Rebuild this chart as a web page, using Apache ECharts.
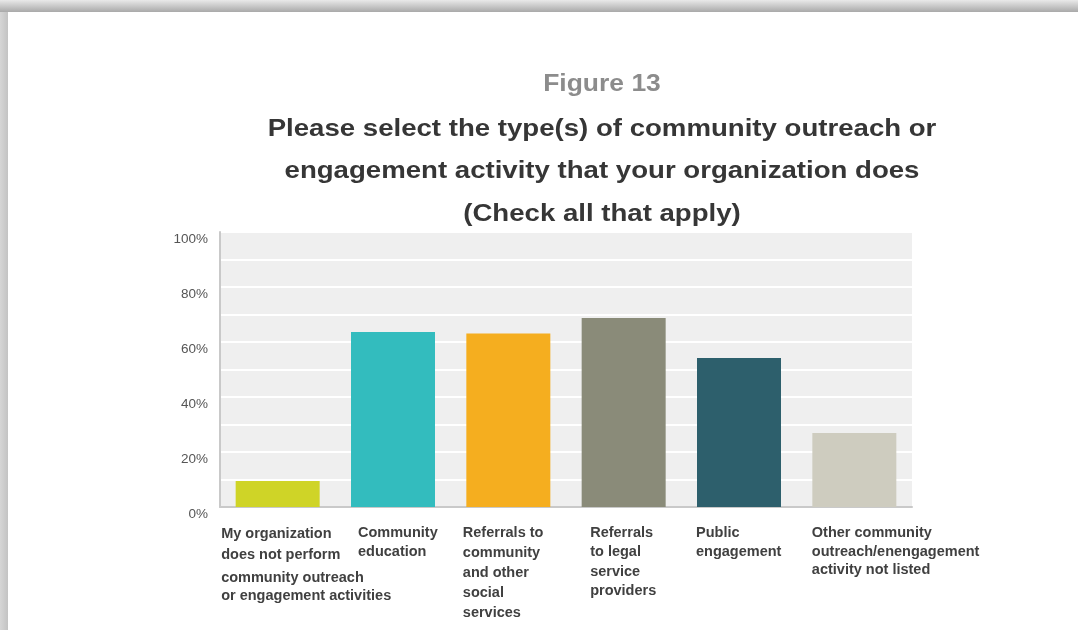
<!DOCTYPE html>
<html>
<head>
<meta charset="utf-8">
<title>Figure 13</title>
<script src="https://cdn.jsdelivr.net/npm/echarts@6/dist/echarts.min.js"></script>
<style>
  html, body { margin: 0; padding: 0; background: #ffffff; }
  #chart { width: 1078px; height: 630px; }
</style>
</head>
<body>
<div id="chart"></div>
<script>
// Survey answers (share of organizations, %)
const categories = [
  'My organization\ndoes not perform\ncommunity outreach\nor engagement activities',
  'Community\neducation',
  'Referrals to\ncommunity\nand other\nsocial\nservices',
  'Referrals\nto legal\nservice\nproviders',
  'Public\nengagement',
  'Other community\noutreach/enengagement\nactivity not listed'
];
const values = [9.5, 63.6, 63.1, 68.7, 54.2, 26.9];
const barColors = ['#cfd427', '#33bcbe', '#f5ae1f', '#8a8b79', '#2d5f6c', '#ceccbf'];

const figureLabel = 'Figure 13';
const titleLines = [
  'Please select the type(s) of community outreach or',
  'engagement activity that your organization does',
  '(Check all that apply)'
];

// Layout of the category labels: each label is a left-aligned block of this width,
// centred under its category, and a line height per label.
const labelBlockWidths = [113, 70, 91, 67, 86, 85];
const labelLineHeights = [20, 19.5, 20, 19.5, 19.5, 18.5];

const FONT = '"Liberation Sans", Arial, Helvetica, sans-serif';

const rich = {};
labelBlockWidths.forEach(function (w, i) {
  rich['c' + i] = {
    width: w, align: 'left', fontFamily: FONT, fontWeight: 'bold',
    fontSize: 14.5, color: '#404040', lineHeight: labelLineHeights[i]
  };
});
// first label: wider gap before its third line, tighter last line
rich.c0a = Object.assign({}, rich.c0, { lineHeight: 21 });
rich.c0b = Object.assign({}, rich.c0, { lineHeight: 25 });
rich.c0c = Object.assign({}, rich.c0, { lineHeight: 11 });
// last label sits a little lower
rich.c5.padding = [2, 0, 0, 0];

function categoryLabel(value, index) {
  const lines = value.split('\n');
  return lines.map(function (line, k) {
    let key = 'c' + index;
    if (index === 0) key = k < 2 ? 'c0a' : (k === 2 ? 'c0b' : 'c0c');
    return '{' + key + '|' + line + '}';
  }).join('\n');
}

const chart = echarts.init(document.getElementById('chart'), null, { renderer: 'canvas' });

const graphics = [
  // page edge shading
  {
    type: 'rect', silent: true, z: 0,
    shape: { x: 0, y: 0, width: 1078, height: 12 },
    style: { fill: new echarts.graphic.LinearGradient(0, 0, 0, 1, [
      { offset: 0, color: '#e9e9e9' }, { offset: 1, color: '#a9a9a9' }
    ]) }
  },
  {
    type: 'rect', silent: true, z: 0,
    shape: { x: 0, y: 12, width: 8, height: 618 },
    style: { fill: new echarts.graphic.LinearGradient(0, 0, 1, 0, [
      { offset: 0, color: '#d6d6d6' }, { offset: 1, color: '#c3c3c3' }
    ]) }
  },
  {
    type: 'text', x: 602, y: 85, scaleX: 1.15, z: 10,
    style: {
      text: figureLabel, font: 'bold 23px ' + FONT, fill: '#8c8c8c',
      align: 'center', verticalAlign: 'middle', textAlign: 'center', textVerticalAlign: 'middle'
    }
  }
];
titleLines.forEach(function (line, i) {
  graphics.push({
    type: 'text', x: 602, y: 129 + i * 42.5, scaleX: 1.15, z: 10,
    style: {
      text: line, font: 'bold 24px ' + FONT, fill: '#363636',
      align: 'center', verticalAlign: 'middle', textAlign: 'center', textVerticalAlign: 'middle'
    }
  });
});

chart.setOption({
  animation: false,
  backgroundColor: '#ffffff',
  graphic: graphics,
  grid: {
    left: 220, right: 166, top: 232, bottom: 123,
    show: true, backgroundColor: '#efefef', borderWidth: 0
  },
  xAxis: {
    type: 'category',
    data: categories,
    axisTick: { show: false },
    axisLine: { show: true, lineStyle: { color: '#c9c9c9', width: 2 } },
    axisLabel: {
      interval: 0, margin: 16,
      formatter: categoryLabel,
      rich: rich
    },
    splitLine: { show: false }
  },
  yAxis: {
    type: 'value',
    min: 0, max: 100, interval: 10,
    axisTick: { show: false },
    axisLine: { show: true, lineStyle: { color: '#c9c9c9', width: 2 } },
    axisLabel: {
      margin: 12,
      verticalAlign: 'top',
      color: '#555555', fontFamily: FONT, fontSize: 13.5,
      formatter: function (v) { return v % 20 === 0 ? v + '%' : ''; }
    },
    splitLine: { show: true, lineStyle: { color: '#ffffff', width: 2 } }
  },
  series: [{
    type: 'bar',
    barWidth: 84,
    data: values.map(function (v, i) {
      return { value: v, itemStyle: { color: barColors[i] } };
    })
  }]
});
</script>
</body>
</html>
